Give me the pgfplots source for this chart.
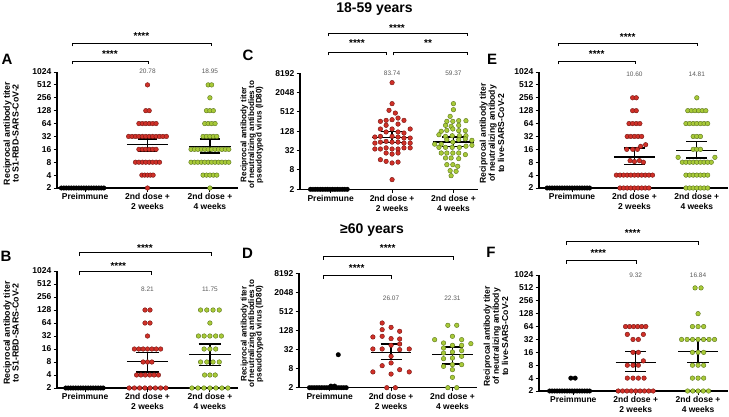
\documentclass[border=0pt]{standalone}
\usepackage{fontspec}
\setmainfont{Liberation Sans}
\usepackage{pgfplots}
\pgfplotsset{compat=1.18}
\definecolor{rfill}{RGB}{208,48,40}
\definecolor{rline}{RGB}{115,22,18}
\definecolor{gfill}{RGB}{168,202,56}
\definecolor{gline}{RGB}{90,115,28}
\definecolor{vgray}{RGB}{90,90,90}
\pgfplotsset{
  every axis/.append style={
    scale only axis, clip=false,
    axis x line*=bottom, axis y line*=left,
    axis line style={line width=1.3pt},
    tick align=outside, major tick length=3.5pt,
    tick style={line width=1pt, black},
    xtick={0,1,2},
    xticklabels={Preimmune,{2nd dose +\\2 weeks},{2nd dose +\\4 weeks}},
    x tick label style={font=\bfseries\fontsize{8.5}{10}\selectfont, align=center, inner sep=2pt},
    y tick label style={font=\bfseries\fontsize{8.5}{10}\selectfont, inner sep=2pt},
    ylabel style={font=\bfseries\fontsize{8.8}{8.8}\selectfont, align=center, anchor=center},
    unbounded coords=jump,
  },
  mypre/.style={only marks, mark=*, mark size=2.3pt, mark options={fill=black, draw=black, line width=0.3pt}},
  mydotred/.style={only marks, mark=*, mark size=2.3pt, mark options={fill=rfill, draw=rline, line width=0.4pt}},
  mydotgreen/.style={only marks, mark=*, mark size=2.3pt, mark options={fill=gfill, draw=gline, line width=0.4pt}},
  mystat/.style={black, line width=1.2pt, mark=none},
}
\tikzset{val/.style={font=\fontsize{6.5}{7}\selectfont, text=vgray, inner sep=0pt},
  star/.style={font=\bfseries\fontsize{10}{10}\selectfont, inner sep=0pt},
  brk/.style={line width=0.8pt, black},
  letter/.style={font=\bfseries\fontsize{15}{15}\selectfont, inner sep=0pt},
  ttl/.style={font=\bfseries\fontsize{14}{14}\selectfont, inner sep=0pt}}
\begin{document}
\begin{tikzpicture}[x=1pt,y=1pt]
\path[use as bounding box] (0,0) rectangle (729,416);
% ---------------- Panel A ----------------
\begin{axis}[ymode=log, log basis y=2, ymin=2,ymax=1024,ytick={2,4,8,16,32,64,128,256,512,1024},yticklabels={2,4,8,16,32,64,128,256,512,1024},
  at={(57pt,228pt)}, anchor=south west, width=181pt, height=116pt,
  xmin=-0.45, xmax=2.45,
  ylabel={Reciprocal antibody titer\\to S1-RBD-SARS-CoV-2},
  ylabel style={at={(axis description cs:-0.254,0.47)}}]
\addplot[mypre] coordinates {(-0.38,2)(-0.34,2)(-0.30,2)(-0.26,2)(-0.22,2)(-0.18,2)(-0.14,2)(-0.10,2)(-0.06,2)(-0.02,2)(0.02,2)(0.06,2)(0.10,2)(0.14,2)(0.18,2)(0.22,2)(0.26,2)(0.30,2)};
\addplot[mydotred] coordinates {(1,512)
(0.9725,128)(1.0275,128)
(0.8625,64)(0.9175,64)(0.9725,64)(1.0275,64)(1.0825,64)(1.1375,64)
(0.6975,32)(0.7525,32)(0.8075,32)(0.8625,32)(0.9175,32)(0.9725,32)(1.0275,32)(1.0825,32)(1.1375,32)(1.1925,32)(1.2475,32)(1.3025,32)
(0.8625,16)(0.9175,16)(0.9725,16)(1.0275,16)(1.0825,16)(1.1375,16)
(0.8075,8)(0.8625,8)(0.9175,8)(0.9725,8)(1.0275,8)(1.0825,8)(1.1375,8)(1.1925,8)
(0.91,4)(0.955,4)(1,4)(1.045,4)(1.09,4)
(1,2)};
\addplot[mydotgreen] coordinates {(1.9725,512)(2.0275,512)
(2,256)
(1.945,128)(2,128)(2.055,128)
(1.9175,64)(1.9725,64)(2.0275,64)(2.0825,64)
(1.89,32)(1.945,32)(2,32)(2.055,32)(2.11,32)
(1.6975,16)(1.7525,16)(1.8075,16)(1.8625,16)(1.9175,16)(1.9725,16)(2.0275,16)(2.0825,16)(2.1375,16)(2.1925,16)(2.2475,16)(2.3025,16)
(1.6975,8)(1.7525,8)(1.8075,8)(1.8625,8)(1.9175,8)(1.9725,8)(2.0275,8)(2.0825,8)(2.1375,8)(2.1925,8)(2.2475,8)(2.3025,8)
(1.89,4)(1.945,4)(2,4)(2.055,4)(2.11,4)
(2,2)};
\addplot[mystat] coordinates {(0.67,20.78)(1.33,20.78)(1,nan)(0.84,27.9)(1.16,27.9)(1,nan)(1,27.9)(1,14.3)(1,nan)(0.84,14.3)(1.16,14.3)};
\addplot[mystat] coordinates {(1.67,18.95)(2.33,18.95)(2,nan)(1.84,27.9)(2.16,27.9)(2,nan)(2,27.9)(2,13.1)(2,nan)(1.84,13.1)(2.16,13.1)};
\node[val] at (axis cs:1,1060) {20.78};
\node[val] at (axis cs:2,1060) {18.95};
\end{axis}
% ---------------- Panel C ----------------
\begin{axis}[ymode=log, log basis y=2, ymin=2,ymax=8192,ytick={2,8,32,128,512,2048,8192},yticklabels={2,8,32,128,512,2048,8192},
  at={(300pt,226.7pt)}, anchor=south west, width=178pt, height=116pt,
  xmin=-0.5, xmax=2.4,
  ylabel={Reciprocal antibody titer\\of neutralizing antibodies to\\pseudotyped virus (ID80)},
  ylabel style={at={(axis description cs:-0.27,0.47)}, font=\bfseries\fontsize{8.1}{7.6}\selectfont}]
\addplot[mypre] coordinates {(-0.33,2)(-0.29,2)(-0.25,2)(-0.21,2)(-0.17,2)(-0.13,2)(-0.09,2)(-0.05,2)(-0.01,2)(0.03,2)(0.07,2)(0.11,2)(0.15,2)(0.19,2)(0.23,2)(0.27,2)};
\addplot[mydotred] coordinates {(1,4200)
(1,930)
(0.95,576)
(1.053,474)
(1.097,331)
(0.81,261)(0.903,280)(1,294)(1.194,280)
(0.903,197)(1.097,215)
(0.81,151)(1,151)(1.295,151)
(0.903,122)(1.097,122)(1.194,113)
(0.72,85)(0.81,89)(1,89)(1.097,85)(1.194,79)(1.295,79)
(0.72,55)(0.81,59)(0.903,62)(1,59)(1.097,59)(1.194,55)(1.295,55)
(0.72,36)(0.81,36)(0.903,39)(1,36)(1.097,36)(1.194,39)(1.295,39)
(0.903,27)(1,25)(1.097,27)
(0.81,16.7)(0.903,14.8)(1,13.2)(1.097,14.1)
(1,4)};
\addplot[mydotgreen] coordinates {(2,929)(2,603)
(1.946,374)(1.892,261)(1.99,261)(2.086,274)(2.204,274)
(1.871,196)(1.962,183)(2.086,196)
(1.801,128)(1.892,137)(1.99,151)(2.086,134)(2.194,134)
(1.763,100)(1.871,89)(1.98,93)(2.097,93)(2.204,93)
(1.694,51)(1.801,51)(1.892,70)(1.99,59)(2.086,70)(2.194,74)(2.301,67)
(1.763,40.5)(1.871,40.5)(1.98,40.5)(2.097,40.5)(2.204,44)(2.301,47)
(1.801,27)(1.892,27)(1.99,27)(2.086,27)(2.194,24)
(1.871,18.9)(1.962,18.9)(2.086,18)
(1.892,11.7)(1.99,11.7)(2.07,10.4)
(1.946,7.6)(2.043,7.25)
(1.962,5.3)};
\addplot[mystat] coordinates {(0.67,83.74)(1.33,83.74)(1,nan)(0.82,125)(1.18,125)(1,nan)(1,125)(1,56)(1,nan)(0.82,56)(1.18,56)};
\addplot[mystat] coordinates {(1.67,59.37)(2.33,59.37)(2,nan)(1.82,85)(2.18,85)(2,nan)(2,85)(2,42)(2,nan)(1.82,42)(2.18,42)};
\node[val] at (axis cs:1,8192) {83.74};
\node[val] at (axis cs:2,8192) {59.37};
\end{axis}
% ---------------- Panel E ----------------
\begin{axis}[ymode=log, log basis y=2, ymin=2,ymax=1024,ytick={2,4,8,16,32,64,128,256,512,1024},yticklabels={2,4,8,16,32,64,128,256,512,1024},
  at={(539pt,228pt)}, anchor=south west, width=189pt, height=116pt,
  xmin=-0.53, xmax=2.5,
  ylabel={Reciprocal antibody titer\\of neutralizing antibody\\to live-SARS-CoV-2},
  ylabel style={at={(axis description cs:-0.249,0.47)}, font=\bfseries\fontsize{8.6}{7.6}\selectfont}]
\addplot[mypre] coordinates {(-0.40,2)(-0.36,2)(-0.32,2)(-0.28,2)(-0.24,2)(-0.20,2)(-0.16,2)(-0.12,2)(-0.08,2)(-0.04,2)(0,2)(0.04,2)(0.08,2)(0.12,2)(0.16,2)(0.20,2)(0.24,2)(0.28,2)};
\addplot[mydotred] coordinates {(0.971,256)(1.029,256)
(0.971,128)(1.029,128)
(0.913,64)(0.971,64)(1.029,64)(1.087,64)
(0.884,32)(0.942,32)(1,32)(1.058,32)(1.116,32)
(0.877,16)(0.973,16)(1.048,16)(1.10,18.8)(1.18,20.5)
(0.93,8.7)(1,8.3)(1.08,8.7)(1.144,8)
(0.71,4)(0.768,4)(0.826,4)(0.884,4)(0.942,4)(1,4)(1.058,4)(1.116,4)(1.174,4)(1.232,4)(1.29,4)
(0.768,2)(0.826,2)(0.884,2)(0.942,2)(1,2)(1.058,2)(1.116,2)(1.174,2)(1.232,2)};
\addplot[mydotgreen] coordinates {(2,256)
(1.855,128)(1.913,128)(1.971,128)(2.029,128)(2.087,128)(2.145,128)
(1.826,64)(1.884,64)(1.942,64)(2,64)(2.058,64)(2.116,64)(2.174,64)
(1.942,32)(2,32)(2.058,32)
(1.942,16)(2,16)(2.058,16)
(1.70,10.4)(2.29,10.4)
(1.768,8)(1.826,8)(1.884,8)(1.942,8)(2,8)(2.058,8)(2.116,8)(2.174,8)(2.232,8)
(1.826,4)(1.884,4)(1.942,4)(2,4)(2.058,4)(2.116,4)(2.174,4)
(1.826,2)(1.884,2)(1.942,2)(2,2)(2.058,2)(2.116,2)(2.174,2)};
\addplot[mystat] coordinates {(0.67,10.60)(1.33,10.60)(1,nan)(0.83,17.2)(1.17,17.2)(1,nan)(1,17.2)(1,7.0)(1,nan)(0.83,7.0)(1.17,7.0)};
\addplot[mystat] coordinates {(1.67,14.81)(2.33,14.81)(2,nan)(1.83,24.6)(2.17,24.6)(2,nan)(2,24.6)(2,10.0)(2,nan)(1.83,10.0)(2.17,10.0)};
\node[val] at (axis cs:1,920) {10.60};
\node[val] at (axis cs:2,920) {14.81};
\end{axis}
% ---------------- Panel B ----------------
\begin{axis}[ymode=log, log basis y=2, ymin=2,ymax=1024,ytick={2,4,8,16,32,64,128,256,512,1024},yticklabels={2,4,8,16,32,64,128,256,512,1024},
  at={(57pt,28pt)}, anchor=south west, width=181pt, height=117pt,
  xmin=-0.45, xmax=2.45,
  ylabel={Reciprocal antibody titer\\to S1-RBD-SARS-CoV-2},
  ylabel style={at={(axis description cs:-0.254,0.47)}}]
\addplot[mypre] coordinates {(-0.31,2)(-0.27,2)(-0.23,2)(-0.19,2)(-0.15,2)(-0.11,2)(-0.07,2)(-0.03,2)(0.01,2)(0.05,2)(0.09,2)(0.13,2)(0.17,2)(0.21,2)(0.25,2)(0.29,2)};
\addplot[mydotred] coordinates {(0.96,128)(1.04,128)
(0.96,64)(1.04,64)
(1,32)
(0.79,16)(0.86,16)(0.93,16)(1,16)(1.07,16)(1.14,16)(1.21,16)
(0.93,8)(1,8)(1.07,8)
(0.825,4)(0.895,4)(0.965,4)(1.035,4)(1.105,4)(1.175,4)
(0.706,2)(0.79,2)(0.874,2)(0.958,2)(1.042,2)(1.126,2)(1.21,2)(1.294,2)};
\addplot[mydotgreen] coordinates {(1.85,128)(1.95,128)(2.05,128)(2.15,128)
(2,64)
(1.816,32)(1.908,32)(2,32)(2.092,32)(2.184,32)
(1.907,16)(2,16)(2.093,16)
(1.85,8)(1.95,8)(2.05,8)(2.15,8)
(1.915,4)(2,4)(2.085,4)
(1.712,2)(1.808,2)(1.904,2)(2,2)(2.096,2)(2.192,2)(2.288,2)};
\addplot[mystat] coordinates {(0.67,8.21)(1.33,8.21)(1,nan)(0.82,13.4)(1.18,13.4)(1,nan)(1,13.4)(1,4.7)(1,nan)(0.82,4.7)(1.18,4.7)};
\addplot[mystat] coordinates {(1.67,11.75)(2.33,11.75)(2,nan)(1.82,20.8)(2.18,20.8)(2,nan)(2,20.8)(2,6.6)(2,nan)(1.82,6.6)(2.18,6.6)};
\node[val] at (axis cs:1,390) {8.21};
\node[val] at (axis cs:2,390) {11.75};
\end{axis}
% ---------------- Panel D ----------------
\begin{axis}[ymode=log, log basis y=2, ymin=2,ymax=8192,ytick={2,8,32,128,512,2048,8192},yticklabels={2,8,32,128,512,2048,8192},
  at={(299pt,28.3pt)}, anchor=south west, width=178pt, height=114.4pt,
  xmin=-0.5, xmax=2.4,
  ylabel={Reciprocal antibody titer\\of neutralizing antibodies to\\pseudotyped virus (ID80)},
  ylabel style={at={(axis description cs:-0.264,0.47)}, font=\bfseries\fontsize{8.1}{7.6}\selectfont}]
\addplot[mypre] coordinates {(-0.33,2)(-0.29,2)(-0.25,2)(-0.21,2)(-0.17,2)(-0.13,2)(-0.09,2)(-0.05,2)(-0.01,2)(0.03,2)(0.07,2)(0.11,2)(0.15,2)(0.19,2)(0.23,2)(0.27,2)(0.02,2.25)(0.08,2.25)(0.14,22)};
\addplot[mydotred] coordinates {(0.855,221)
(0.855,136)(1,161)(1.14,121)
(0.704,80)(0.855,84)(1,71)(1.14,69)
(1.14,48)
(0.704,33.4)(0.855,33.4)(1,43.6)(1.14,31.8)(1.296,33.4)
(1,19.6)
(0.855,9.9)(1,12.1)
(0.704,6.3)(1,5.4)(1.14,7.4)(1.296,6.3)
(0.93,2)(1.07,2)};
\addplot[mydotgreen] coordinates {(1.925,187)(2.07,187)
(1.71,65.8)(1.855,51.6)(2,84)(2.15,65.8)(2.30,49.2)
(1.855,35.9)(2,43.6)(2.15,43.6)
(1.855,24.9)(2,26.8)(2.15,29.6)
(1.855,16.5)(2,17.3)(2.15,19.6)
(1.855,9.46)(2,10.7)(2.15,10.7)
(2,7.4)
(2,4.25)
(1.925,2)(2.07,2)};
\addplot[mystat] coordinates {(0.67,26.07)(1.33,26.07)(1,nan)(0.83,48)(1.17,48)(1,nan)(1,48)(1,15.3)(1,nan)(0.83,15.3)(1.17,15.3)};
\addplot[mystat] coordinates {(1.67,22.31)(2.33,22.31)(2,nan)(1.83,38.6)(2.17,38.6)(2,nan)(2,38.6)(2,11.2)(2,nan)(1.83,11.2)(2.17,11.2)};
\node[val] at (axis cs:1,1290) {26.07};
\node[val] at (axis cs:2,1290) {22.31};
\end{axis}
% ---------------- Panel F ----------------
\begin{axis}[ymode=log, log basis y=2, ymin=2,ymax=1024,ytick={2,4,8,16,32,64,128,256,512,1024},yticklabels={2,4,8,16,32,64,128,256,512,1024},
  at={(539pt,25pt)}, anchor=south west, width=189pt, height=116pt,
  xmin=-0.55, xmax=2.48,
  ylabel={Reciprocal antibody titer\\of neutralizing antibody\\to live-SARS-CoV-2},
  ylabel style={at={(axis description cs:-0.228,0.47)}, font=\bfseries\fontsize{8.6}{7.6}\selectfont}]
\addplot[mypre] coordinates {(-0.38,2)(-0.34,2)(-0.30,2)(-0.26,2)(-0.22,2)(-0.18,2)(-0.14,2)(-0.10,2)(-0.06,2)(-0.02,2)(0.02,2)(0.06,2)(0.10,2)(0.14,2)(0.18,2)(0.22,2)(0.26,2)(-0.04,4)(0.03,4)};
\addplot[mydotred] coordinates {(0.8375,64)(0.9025,64)(0.9675,64)(1.0325,64)(1.0975,64)(1.1625,64)
(0.866,42)(1.123,42)(0.957,32)(1.043,32)
(0.957,16)(1.043,16)
(1.123,10.1)
(0.866,8)(0.957,8)(1.043,8)
(0.866,4)(0.957,4)(1.043,4)(1.134,4)
(0.72,2)(0.79,2)(0.86,2)(0.93,2)(1,2)(1.07,2)(1.14,2)(1.21,2)(1.28,2)};
\addplot[mydotgreen] coordinates {(1.952,512)(2.048,512)
(2,128)
(1.91,64)(2,64)(2.09,64)
(1.736,32)(1.824,32)(1.912,32)(2,32)(2.088,32)(2.176,32)(2.264,32)
(1.91,16)(2,16)(2.09,16)
(1.91,8)(2,8)(2.09,8)
(1.91,4)(2,4)(2.09,4)
(1.832,2)(1.916,2)(2,2)(2.084,2)(2.168,2)};
\addplot[mystat] coordinates {(0.68,9.32)(1.32,9.32)(1,nan)(0.83,16.6)(1.17,16.6)(1,nan)(1,16.6)(1,5.6)(1,nan)(0.83,5.6)(1.17,5.6)};
\addplot[mystat] coordinates {(1.68,16.84)(2.32,16.84)(2,nan)(1.83,32)(2.17,32)(2,nan)(2,32)(2,9.1)(2,nan)(1.83,9.1)(2.17,9.1)};
\node[val] at (axis cs:1,990) {9.32};
\node[val] at (axis cs:2,990) {16.84};
\end{axis}
% ---------------- annotations ----------------
\node[ttl] at (374.5,407) {18-59 years};
\node[ttl] at (372,186) {≥60 years};
\node[letter] at (7,357) {A};
\node[letter] at (6,160) {B};
\node[letter] at (248,361) {C};
\node[letter] at (247.5,163) {D};
\node[letter] at (492,357) {E};
\node[letter] at (491,163.5) {F};
\draw[brk] (72,369.5) -- (72,373) -- (211,373) -- (211,369.5);
\node[star] at (141.5,380) {****};
\draw[brk] (72,351.5) -- (72,355) -- (148,355) -- (148,351.5);
\node[star] at (110,362) {****};
\draw[brk] (328,379.5) -- (328,383) -- (467,383) -- (467,379.5);
\node[star] at (397,387.7) {****};
\draw[brk] (328,360.5) -- (328,364) -- (386,364) -- (386,360.5);
\node[star] at (357,372.7) {****};
\draw[brk] (393,360.5) -- (393,364) -- (467,364) -- (467,360.5);
\node[star] at (428,372.7) {**};
\draw[brk] (558,369.5) -- (558,373) -- (697,373) -- (697,369.5);
\node[star] at (627.7,379.3) {****};
\draw[brk] (558,351.5) -- (558,355) -- (635,355) -- (635,351.5);
\node[star] at (596.7,361.7) {****};
\draw[brk] (79,160.2) -- (79,163.7) -- (211,163.7) -- (211,160.2);
\node[star] at (145,168.3) {****};
\draw[brk] (79,140.8) -- (79,144.3) -- (151,144.3) -- (151,140.8);
\node[star] at (118.3,150) {****};
\draw[brk] (323,156.5) -- (323,160) -- (453,160) -- (453,156.5);
\node[star] at (387.7,168.3) {****};
\draw[brk] (323,137.5) -- (323,141) -- (391,141) -- (391,137.5);
\node[star] at (356.7,148.3) {****};
\draw[brk] (566,170.8) -- (566,174.3) -- (698,174.3) -- (698,170.8);
\node[star] at (632.7,182.7) {****};
\draw[brk] (566,152.5) -- (566,156) -- (636,156) -- (636,152.5);
\node[star] at (598.3,163.3) {****};
\end{tikzpicture}
\end{document}
